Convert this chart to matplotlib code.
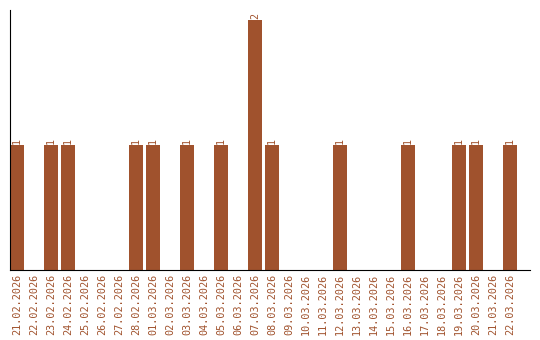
import matplotlib
matplotlib.use("Agg")
import matplotlib.pyplot as plt

dates = ["21.02.2026", "22.02.2026", "23.02.2026", "24.02.2026", "25.02.2026",
         "26.02.2026", "27.02.2026", "28.02.2026", "01.03.2026", "02.03.2026",
         "03.03.2026", "04.03.2026", "05.03.2026", "06.03.2026", "07.03.2026",
         "08.03.2026", "09.03.2026", "10.03.2026", "11.03.2026", "12.03.2026",
         "13.03.2026", "14.03.2026", "15.03.2026", "16.03.2026", "17.03.2026",
         "18.03.2026", "19.03.2026", "20.03.2026", "21.03.2026", "22.03.2026"]
counts = [1, 0, 1, 1, 0, 0, 0, 1, 1, 0,
          1, 0, 1, 0, 2, 1, 0, 0, 0, 1,
          0, 0, 0, 1, 0, 0, 1, 1, 0, 1]

col = "#A0522D"

fig = plt.figure(figsize=(5.4, 3.4), dpi=100)
ax = fig.add_axes([10/540, 70/340, 520/540, 260/340])

x = list(range(len(dates)))
bars = ax.bar(x, counts, width=0.82, color=col)
for xi, v in zip(x, counts):
    if v > 0:
        ax.text(xi, v + 0.01, str(v), rotation=90, ha="center", va="bottom",
                fontsize=7.2, color=col, family="DejaVu Sans Mono")

ax.set_xlim(-0.41, 30.18)
ax.set_ylim(0, 2.08)
ax.set_xticks(x)
ax.set_xticklabels(dates, rotation=90, fontsize=7.3, color=col, family="DejaVu Sans Mono")
ax.tick_params(axis="x", length=0, pad=3)
ax.set_yticks([])
ax.spines["top"].set_visible(False)
ax.spines["right"].set_visible(False)

fig.savefig("out.png", dpi=100)
